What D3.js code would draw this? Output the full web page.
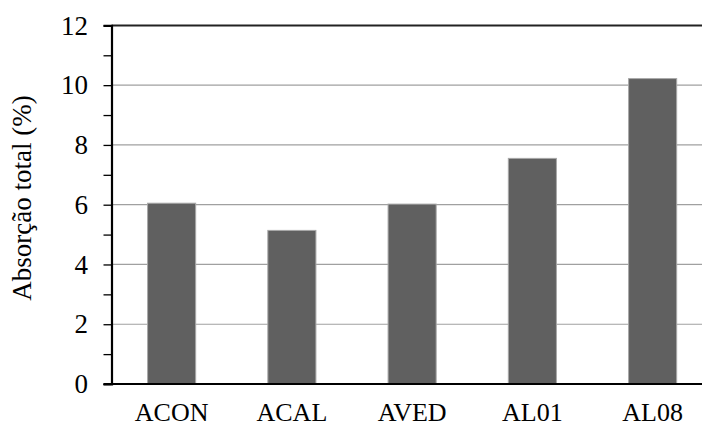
<!DOCTYPE html>
<html><head><meta charset="utf-8">
<script src="https://cdn.jsdelivr.net/npm/d3@7"></script>
<style>body{margin:0;background:#fff}svg{display:block}</style>
</head><body>
<script>
const categories = ["ACON","ACAL","AVED","AL01","AL08"];
const values = [6.05, 5.14, 6.02, 7.55, 10.22];
const yTicks = [0,2,4,6,8,10,12];
const yLabel = "Absorção total (%)";

const W = 702, H = 428;
const m = {left:111.5, top:25.4, bottom:44, right:-10.75};
const svg = d3.select("body").append("svg").attr("width",W).attr("height",H);
const x = d3.scaleBand().domain(categories).range([m.left, W - m.right]).paddingInner(0.6).paddingOuter(0.3);
const y = d3.scaleLinear().domain([0,12]).range([384, m.top]);
const font = "'Liberation Serif', 'Times New Roman', serif";
const fs = 27;

// gridlines
svg.append("g").selectAll("line").data(yTicks.filter(d=>d>0 && d<12)).join("line")
  .attr("x1",m.left).attr("x2",W).attr("y1",d=>y(d)).attr("y2",d=>y(d))
  .attr("stroke","#a0a0a0").attr("stroke-width",1.2);
// top line
svg.append("line").attr("x1",m.left).attr("x2",W).attr("y1",y(12)).attr("y2",y(12))
  .attr("stroke","#222").attr("stroke-width",2);

// bars
svg.append("g").selectAll("rect").data(values).join("rect")
  .attr("x",(d,i)=>x(categories[i])).attr("width",x.bandwidth())
  .attr("y",d=>y(d)).attr("height",d=>y(0)-y(d))
  .attr("fill","#606060").attr("stroke","#a8a8a8").attr("stroke-width",1);

// y axis
const yAxis = d3.axisLeft(y).tickValues(d3.range(0,13,1)).tickSize(8).tickFormat(d=> d%2===0 ? d : "");
const gy = svg.append("g").attr("transform",`translate(${m.left},0)`).call(yAxis);
gy.select(".domain").attr("stroke","#000").attr("stroke-width",2.2);
gy.selectAll(".tick line").attr("stroke","#000").attr("stroke-width",1.3);
gy.selectAll(".tick text").style("font-family",font).style("font-size",fs+"px").attr("fill","#000").attr("x",-23.5);

// x axis
const xAxis = d3.axisBottom(x).tickSize(0).tickPadding(19);
const gx = svg.append("g").attr("transform",`translate(0,${y(0)})`).call(xAxis);
gx.select(".domain").remove();
svg.append("line").attr("x1",m.left-8).attr("x2",W).attr("y1",y(0)).attr("y2",y(0)).attr("stroke","#000").attr("stroke-width",2.2);
gx.selectAll(".tick text").style("font-family",font).style("font-size","26px").attr("fill","#000");

// y label
svg.append("text").attr("transform",`translate(31,198) rotate(-90)`)
  .attr("text-anchor","middle").style("font-family",font).style("font-size",fs+"px").attr("fill","#000").text(yLabel);
</script>
</body></html>
